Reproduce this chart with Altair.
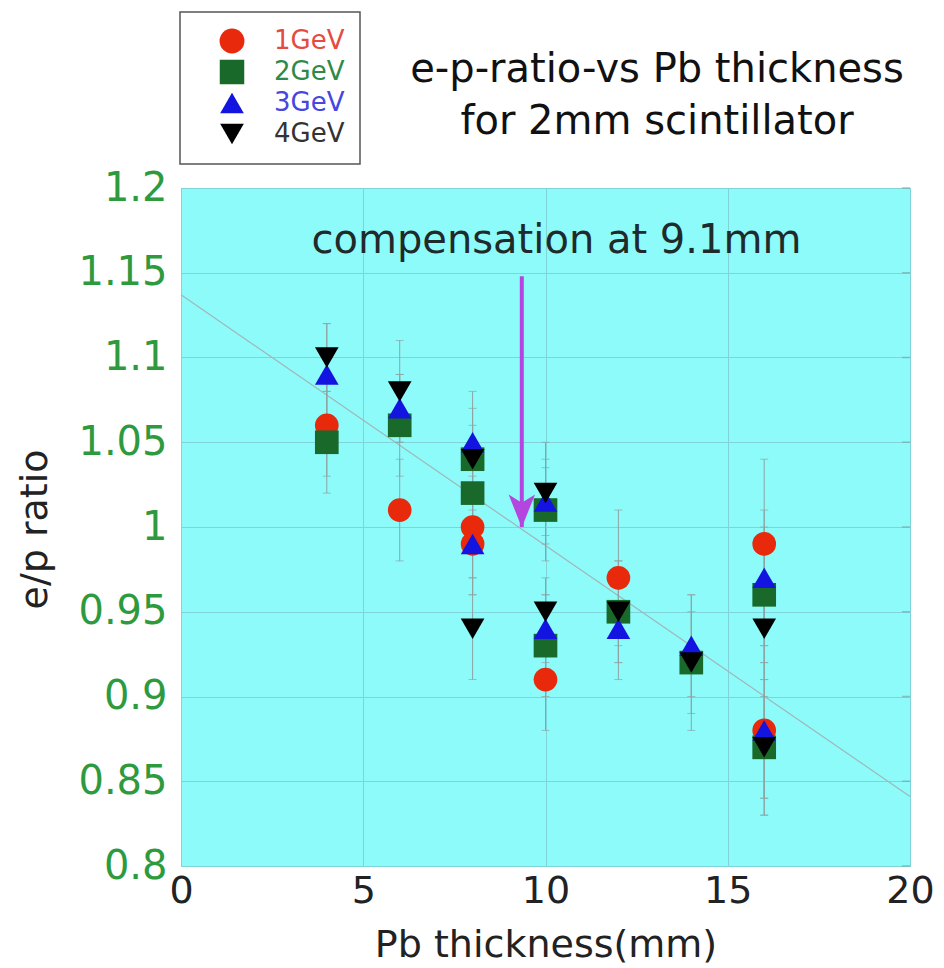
import altair as alt
import pandas as pd

# ---------------- data ----------------
series = ["1GeV", "2GeV", "3GeV", "4GeV"]

x_1gev = [4, 6, 8, 8, 10, 12, 16, 16]
y_1gev = [1.06, 1.01, 1.00, 0.99, 0.91, 0.97, 0.99, 0.88]
e_1gev = [0.03, 0.03, 0.03, 0.03, 0.03, 0.04, 0.05, 0.04]

x_2gev = [4, 6, 8, 8, 10, 10, 12, 14, 16, 16]
y_2gev = [1.05, 1.06, 1.04, 1.02, 1.01, 0.93, 0.95, 0.92, 0.96, 0.87]
e_2gev = [0.03, 0.03, 0.02, 0.02, 0.03, 0.03, 0.03, 0.04, 0.04, 0.04]

x_3gev = [4, 6, 8, 8, 10, 10, 12, 14, 16, 16]
y_3gev = [1.09, 1.07, 1.05, 0.99, 1.015, 0.94, 0.94, 0.93, 0.97, 0.88]
e_3gev = [0.03, 0.02, 0.03, 0.03, 0.02, 0.02, 0.03, 0.03, 0.04, 0.05]

x_4gev = [4, 6, 8, 8, 10, 10, 12, 14, 16, 16]
y_4gev = [1.10, 1.08, 1.04, 0.94, 1.02, 0.95, 0.95, 0.92, 0.94, 0.87]
e_4gev = [0.02, 0.03, 0.03, 0.03, 0.03, 0.02, 0.03, 0.03, 0.03, 0.03]

fit_x = [0, 20]
fit_y = [1.137, 0.841]

arrow_x = [9.35]
arrow_top = [1.148]
arrow_tip = [1.0]

note_x = [10.3]
note_y = [1.169]
note_text = ["compensation at 9.1mm"]

title_lines = ["e-p-ratio-vs Pb thickness", "for 2mm scintillator"]
y_ticks = [0.8, 0.85, 0.9, 0.95, 1.0, 1.05, 1.1, 1.15, 1.2]
x_ticks = [0, 5, 10, 15, 20]

# ---------------- styles ----------------
FONT = "DejaVu Sans"
marker_colors = ["#e8290b", "#18692a", "#1414e0", "#000000"]
label_colors = ["#e54b40", "#2f8a47", "#4646e0", "#333333"]
shapes = ["circle", "square", "triangle-up", "triangle-down"]
BG = "#8efbfb"
GRID = "#80d3d8"
ERR = "#8fa3a3"

rows = []
for s, xs, ys, es in [
    ("1GeV", x_1gev, y_1gev, e_1gev),
    ("2GeV", x_2gev, y_2gev, e_2gev),
    ("3GeV", x_3gev, y_3gev, e_3gev),
    ("4GeV", x_4gev, y_4gev, e_4gev),
]:
    for x, y, e in zip(xs, ys, es):
        rows.append({"series": s, "x": x, "y": y,
                     "lo": round(y - e, 4), "hi": round(y + e, 4)})
df = pd.DataFrame(rows)

fit_df = pd.DataFrame({"x": fit_x, "y": fit_y})
arrow_df = pd.DataFrame({"x": arrow_x, "y": arrow_top, "tip": arrow_tip})
note_df = pd.DataFrame({"x": note_x, "y": note_y, "t": note_text})
rtick_df = pd.DataFrame({"x": [x_ticks[-1]] * len(y_ticks), "y": y_ticks})

x_axis = alt.Axis(values=x_ticks, grid=True, gridColor=GRID, gridWidth=1,
                  ticks=False, domain=False, labelFont=FONT, labelFontSize=38,
                  labelColor="#222222", labelPadding=6, labelFlush=False,
                  title="Pb thickness(mm)", titleFont=FONT, titleFontSize=38,
                  titleFontWeight="normal", titleColor="#222222",
                  titleY=79, titleBaseline="middle")
y_axis = alt.Axis(values=y_ticks, format="~g", grid=True, gridColor=GRID,
                  gridWidth=1, ticks=False, domain=False, labelFont=FONT,
                  labelFontSize=40, labelColor="#2e9a3e", labelPadding=14,
                  labelFlush=False,
                  title="e/p ratio", titleFont=FONT, titleFontSize=38,
                  titleFontWeight="normal", titleColor="#222222",
                  titleX=-146, titleY=341, titleAngle=-90,
                  titleBaseline="middle", titleAlign="center")

xs_scale = alt.Scale(domain=[0, 20], nice=False)
ys_scale = alt.Scale(domain=[0.8, 1.2], nice=False, zero=False)


def X(field="x"):
    return alt.X(f"{field}:Q", scale=xs_scale, axis=x_axis)


def Y(field="y"):
    return alt.Y(f"{field}:Q", scale=ys_scale, axis=y_axis)


rticks = alt.Chart(rtick_df).mark_tick(
    color="#7aa9ad", orient="horizontal", size=8, thickness=1.5,
    xOffset=-4).encode(x=X(), y=Y())

fit = alt.Chart(fit_df).mark_line(color="#9fb8b8", strokeWidth=1.2).encode(
    x=X(), y=Y())

err = alt.Chart(df).mark_rule(color=ERR, strokeWidth=1).encode(
    x=X(), y=Y("lo"), y2="hi")
cap_lo = alt.Chart(df).mark_tick(color=ERR, orient="horizontal",
                                 size=8, thickness=1).encode(x=X(), y=Y("lo"))
cap_hi = alt.Chart(df).mark_tick(color=ERR, orient="horizontal",
                                 size=8, thickness=1).encode(x=X(), y=Y("hi"))

points = alt.Chart(df).mark_point(filled=True, opacity=1, size=560).encode(
    x=X(), y=Y(),
    color=alt.Color("series:N", scale=alt.Scale(domain=series,
                                                range=marker_colors),
                    legend=None),
    shape=alt.Shape("series:N", scale=alt.Scale(domain=series, range=shapes),
                    legend=None),
)

ARROW_C = "#b446df"
shaft = alt.Chart(arrow_df).mark_rule(color=ARROW_C, strokeWidth=4).encode(
    x=X(), y=Y(), y2="tip")
head = alt.Chart(arrow_df).mark_point(
    shape="M0,1 L-0.8,-1 L0,-0.5 L0.8,-1 Z", filled=True, opacity=1,
    size=1089, color=ARROW_C, yOffset=-16).encode(x=X(), y=Y("tip"))

note = alt.Chart(note_df).mark_text(font=FONT, fontSize=40, color="#1f2a2a",
                                    align="center", baseline="middle").encode(
    x=X(), y=Y(), text="t:N")

layers = [rticks, fit, err, cap_lo, cap_hi, points, shaft, head, note]

# title text (outside the plot area)
title_df = pd.DataFrame({"t": title_lines})
for i, line in enumerate(title_lines):
    layers.append(
        alt.Chart(title_df.iloc[[i]]).mark_text(
            font=FONT, fontSize=40, color="#111111", align="center",
            baseline="middle").encode(
            x=alt.value(476), y=alt.value([-118, -66][i]), text="t:N"))

# legend box
box_df = pd.DataFrame({"k": [0]})
layers.append(alt.Chart(box_df).mark_rect(
    fill="white", stroke="#555555", strokeWidth=1.5).encode(
    x=alt.value(-1), x2=alt.value(179), y=alt.value(-176), y2=alt.value(-24)))

legend_rows = [-147, -116, -85, -54]
leg_df = pd.DataFrame({"series": series})
for i, s in enumerate(series):
    sub = leg_df.iloc[[i]]
    layers.append(alt.Chart(sub).mark_point(
        filled=True, opacity=1, size=[620, 600, 560, 560][i], shape=shapes[i],
        color=marker_colors[i]).encode(
        x=alt.value(51), y=alt.value(legend_rows[i])))
    layers.append(alt.Chart(sub).mark_text(
        font=FONT, fontSize=26, color=label_colors[i], align="left",
        baseline="middle").encode(
        x=alt.value(93), y=alt.value(legend_rows[i]), text="series:N"))

chart = alt.layer(*layers).properties(
    width=729, height=678,
    autosize=alt.AutoSizeParams(type="none"),
    padding={"left": 181, "top": 188, "right": 34, "bottom": 102},
    background="white",
).configure_view(fill=BG, stroke="#9aacac", strokeWidth=1)

chart.save("out.html", embed_options={"renderer": "svg", "actions": False})
